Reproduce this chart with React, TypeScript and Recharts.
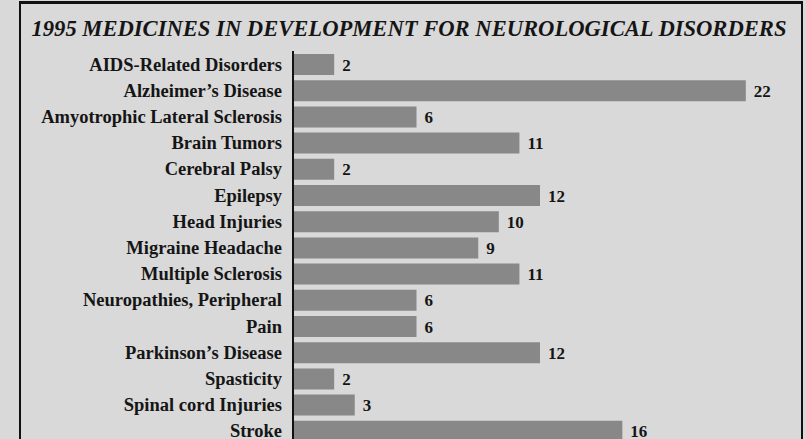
import { BarChart, Bar, XAxis, YAxis, LabelList } from "recharts";

const disorders = [
  "AIDS-Related Disorders",
  "Alzheimer\u2019s Disease",
  "Amyotrophic Lateral Sclerosis",
  "Brain Tumors",
  "Cerebral Palsy",
  "Epilepsy",
  "Head Injuries",
  "Migraine Headache",
  "Multiple Sclerosis",
  "Neuropathies, Peripheral",
  "Pain",
  "Parkinson\u2019s Disease",
  "Spasticity",
  "Spinal cord Injuries",
  "Stroke",
];

const medicines = [2, 22, 6, 11, 2, 12, 10, 9, 11, 6, 6, 12, 2, 3, 16];

const data = disorders.map((name, i) => ({ name, count: medicines[i] }));

const SERIF = '"Liberation Serif", "DejaVu Serif", serif';

export default function App() {
  return (
    <div
      style={{
        position: "absolute",
        left: 0,
        top: 0,
        width: 806,
        height: 439,
        overflow: "hidden",
        background: "#d9d9d9",
        fontFamily: SERIF,
      }}
    >
      <div
        style={{
          position: "absolute",
          left: 19,
          top: 1,
          width: 780,
          height: 460,
          borderTop: "3px solid #111",
          borderLeft: "2px solid #111",
          borderRight: "2px solid #111",
        }}
      />
      <div
        style={{
          position: "absolute",
          left: 20,
          top: 16,
          width: 778,
          textAlign: "center",
          fontStyle: "italic",
          fontWeight: "bold",
          fontSize: 22.6,
          color: "#151515",
          whiteSpace: "nowrap",
        }}
      >
        1995 MEDICINES IN DEVELOPMENT FOR NEUROLOGICAL DISORDERS
      </div>
      <div style={{ position: "absolute", left: 0, top: 0 }}>
        <BarChart
          layout="vertical"
          width={806}
          height={460}
          data={data}
          margin={{ top: 51, right: 19, bottom: 16, left: 0 }}
        >
          <XAxis type="number" domain={[0, 24]} hide />
          <YAxis
            type="category"
            dataKey="name"
            width={293}
            interval={0}
            tickLine={false}
            tickMargin={5}
            axisLine={{ stroke: "#111", strokeWidth: 2 }}
            tick={{ fill: "#151515", fontSize: 18.5, fontWeight: "bold", fontFamily: SERIF }}
          />
          <Bar dataKey="count" fill="#888888" barSize={21} isAnimationActive={false}>
            <LabelList
              dataKey="count"
              position="right"
              offset={8}
              fill="#151515"
              fontSize={17}
              fontWeight="bold"
              fontFamily={SERIF}
            />
          </Bar>
        </BarChart>
      </div>
    </div>
  );
}
